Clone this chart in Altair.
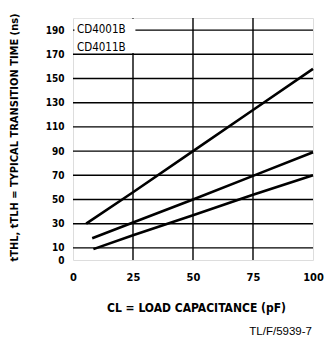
import altair as alt
import pandas as pd

# data
curve_names = ["a", "b", "c"]
cap_a = [5.5, 25, 50, 75, 100]
time_a = [30, 56, 90, 124, 158]
cap_b = [8, 25, 50, 75, 100]
time_b = [18, 31, 50, 69.5, 89]
cap_c = [8.5, 25, 50, 75, 100]
time_c = [9, 20.5, 37, 54, 70]

x_ticks = [0, 25, 50, 75, 100]
y_ticks = [0, 10, 30, 50, 70, 90, 110, 130, 150, 170, 190]
y_grid = [10, 30, 50, 70, 90, 110, 130, 150, 170, 190]
x_grid = [25, 50, 75]
legend_lines = ["CD4001B", "CD4011B"]
legend_y = [190, 175.5]

rows = []
for name, xs, ys in zip(curve_names, [cap_a, cap_b, cap_c], [time_a, time_b, time_c]):
    for x, y in zip(xs, ys):
        rows.append({"curve": name, "cap": x, "t": y})
df = pd.DataFrame(rows)

FONT = "Liberation Sans Narrow, DejaVu Sans Condensed, Arial Narrow, Liberation Sans, sans-serif"

xscale = alt.Scale(domain=[0, 100], nice=False, zero=False)
yscale = alt.Scale(domain=[0, 200], nice=False, zero=False)

yaxis = alt.Axis(values=y_ticks, grid=False, ticks=False, domain=False,
                 labelOverlap=False, labelFlush=False,
                 labelFont=FONT, labelFontSize=10, labelFontWeight="bold",
                 labelPadding=9, labelColor="black",
                 title="tTHL, tTLH = TYPICAL TRANSITION TIME (ns)",
                 titleFont=FONT, titleFontSize=11, titleFontWeight="bold",
                 titleColor="black", titleX=-59, titleY=119, titleAngle=270,
                 titleAlign="center", titleBaseline="middle")
xaxis = alt.Axis(values=x_ticks, grid=False, ticks=False, domain=False,
                 labelOverlap=False, labelFlush=False,
                 labelFont=FONT, labelFontSize=11, labelFontWeight="bold",
                 labelPadding=11, labelColor="black",
                 title="CL = LOAD CAPACITANCE (pF)",
                 titleFont=FONT, titleFontSize=12, titleFontWeight="bold",
                 titleColor="black", titleX=123, titleY=47,
                 titleAlign="center", titleBaseline="middle")

grid_y = alt.Chart(pd.DataFrame({"g": y_grid})).mark_rule(color="black", strokeWidth=1.4).encode(
    y=alt.Y("g:Q", scale=yscale, axis=yaxis)
)
grid_x = alt.Chart(pd.DataFrame({"g": x_grid})).mark_rule(color="black", strokeWidth=1.4).encode(
    x=alt.X("g:Q", scale=xscale, axis=xaxis)
)

box = alt.Chart(pd.DataFrame({"x0": [0.6], "x1": [26], "y0": [171], "y1": [199.3]})).mark_rect(
    color="white").encode(x=alt.X("x0:Q", scale=xscale, axis=xaxis), x2="x1:Q",
                          y=alt.Y("y0:Q", scale=yscale, axis=yaxis), y2="y1:Q")

legend = alt.Chart(pd.DataFrame({"label": legend_lines, "y": legend_y})).mark_text(
    align="left", baseline="middle", font=FONT, fontSize=11.5, color="black", dx=4
).encode(x=alt.value(0), y=alt.Y("y:Q", scale=yscale, axis=yaxis), text="label:N")

lines = alt.Chart(df).mark_line(color="black", strokeWidth=2.6).encode(
    x=alt.X("cap:Q", scale=xscale, axis=xaxis),
    y=alt.Y("t:Q", scale=yscale, axis=yaxis),
    detail="curve:N",
)

foot = alt.Chart(pd.DataFrame({"s": ["TL/F/5939-7"]})).mark_text(
    align="right", baseline="middle", font="Liberation Sans, Arial, sans-serif",
    fontSize=11.5, color="black"
).encode(x=alt.value(239), y=alt.value(314), text="s:N")

chart = alt.layer(grid_y, grid_x, box, legend, lines, foot).properties(
    width=240, height=242,
    autosize=alt.AutoSizeParams(type="none"),
    padding={"left": 73, "top": 18, "right": 11, "bottom": 79},
).configure_view(stroke="black", strokeWidth=2.2).configure_axis(
    labelOverlap=False
).configure(background="white")

chart.save("out.html", embed_options={"renderer": "svg", "actions": False})
